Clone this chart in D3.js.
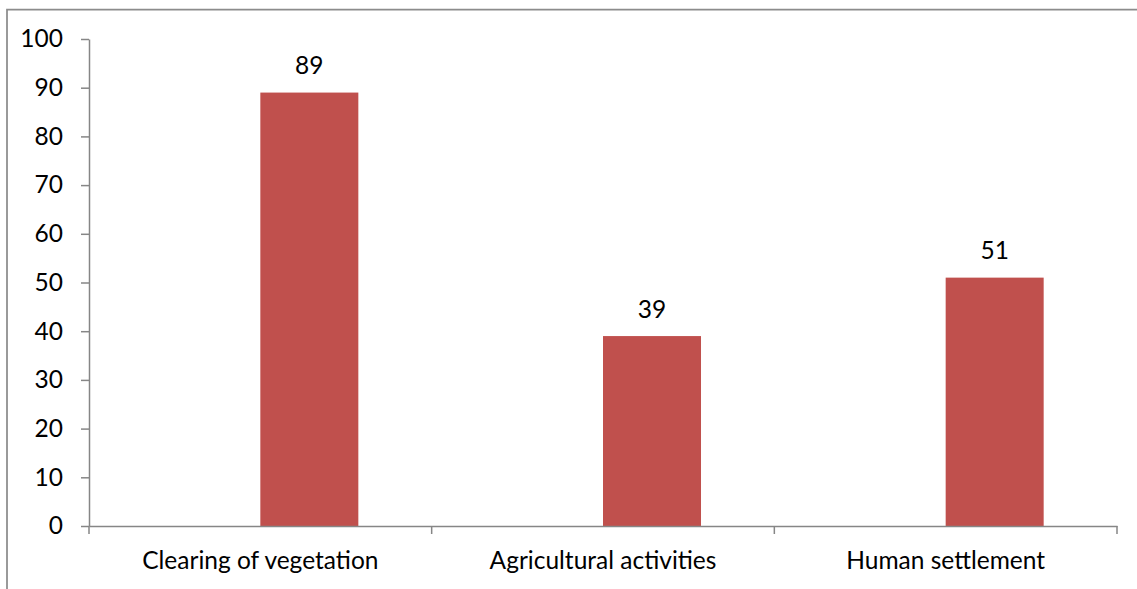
<!DOCTYPE html>
<html>
<head>
<meta charset="utf-8">
<script src="https://cdn.jsdelivr.net/npm/d3@7"></script>
<style>
  html, body { margin: 0; padding: 0; background: #fff; }
  svg { display: block; }
  text { font-family: "Lato", "Liberation Sans", sans-serif; fill: #000; }
</style>
</head>
<body>
<svg id="chart" width="1137" height="589"></svg>
<script>
// Causes of land degradation (number of respondents)
const categories = ["Clearing of vegetation", "Agricultural activities", "Human settlement"];
const values = [89, 39, 51];
const yTicks = [0, 10, 20, 30, 40, 50, 60, 70, 80, 90, 100];

const W = 1137, H = 589;
const plot = { left: 89, right: 1117, top: 39, bottom: 526 };
const fontSize = 24.5;
const fontFamily = "Lato, 'Liberation Sans', sans-serif";

const svg = d3.select("#chart");

// Outer frame (left and top edges visible)
svg.append("path")
  .attr("d", `M7,${H} L7,9.5 L${W},9.5`)
  .attr("fill", "none")
  .attr("stroke", "#8c8c8c")
  .attr("stroke-width", 1.75);

const x = d3.scaleBand().domain(categories).range([plot.left, plot.right]).padding(0);
const y = d3.scaleLinear().domain([0, 100]).range([plot.bottom, plot.top]);

// Bars sit in the right half of each category slot
const barW = x.bandwidth() * 0.286;
const barX = d => x(d) + x.bandwidth() / 2;

svg.append("g").selectAll("rect")
  .data(categories)
  .join("rect")
  .attr("x", (d) => barX(d))
  .attr("y", (d, i) => y(values[i]))
  .attr("width", barW)
  .attr("height", (d, i) => y(0) - y(values[i]))
  .attr("fill", "#c0504d");

// Value labels
svg.append("g").selectAll("text")
  .data(categories)
  .join("text")
  .attr("x", d => barX(d) + barW / 2)
  .attr("y", (d, i) => y(values[i]) - 18.5)
  .attr("text-anchor", "middle")
  .attr("font-size", fontSize)
  .text((d, i) => values[i]);

// Y axis
const yAxis = svg.append("g")
  .attr("transform", `translate(${plot.left},0)`)
  .call(d3.axisLeft(y).tickValues(yTicks).tickSize(8).tickPadding(18).tickSizeOuter(0));
yAxis.select(".domain").attr("stroke", "#868686").attr("stroke-width", 1.5);
yAxis.selectAll(".tick line").attr("stroke", "#868686").attr("stroke-width", 1.5);
yAxis.selectAll(".tick text").attr("font-size", fontSize).attr("font-family", fontFamily).attr("fill", "#000");

// X axis with tick marks on category boundaries
const xAxis = svg.append("g")
  .attr("transform", `translate(0,${plot.bottom})`)
  .call(d3.axisBottom(x).tickSize(0).tickPadding(26));
xAxis.select(".domain").attr("stroke", "#868686").attr("stroke-width", 1.5);
xAxis.selectAll(".tick text").attr("font-size", fontSize).attr("font-family", fontFamily).attr("fill", "#000");

const bounds = categories.map(d => x(d)).concat([x(categories[categories.length - 1]) + x.bandwidth()]);
svg.append("g").selectAll("line")
  .data(bounds)
  .join("line")
  .attr("x1", d => d).attr("x2", d => d)
  .attr("y1", plot.bottom).attr("y2", plot.bottom + 8)
  .attr("stroke", "#868686").attr("stroke-width", 1.5);
</script>
</body>
</html>
